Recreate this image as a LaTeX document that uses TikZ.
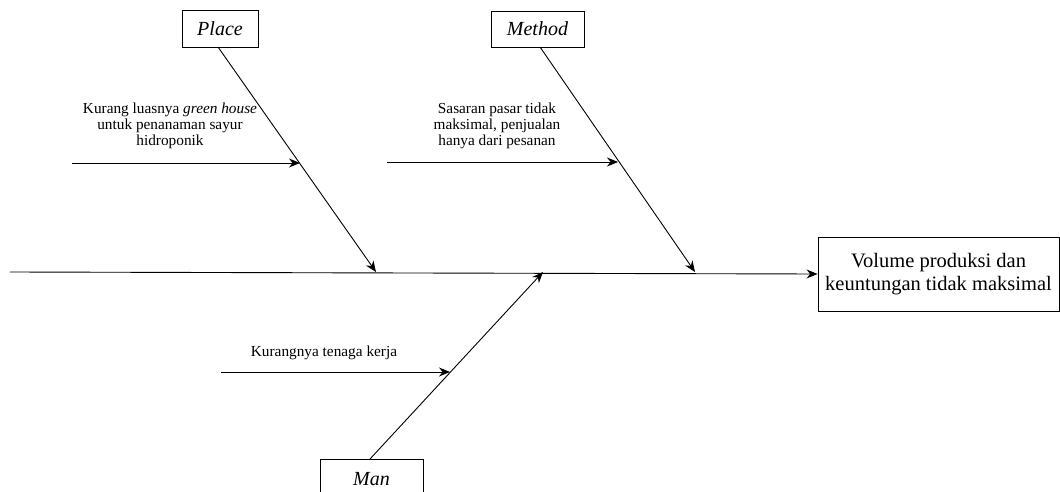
\documentclass[tikz,border=0pt]{standalone}
\usepackage{fontspec}
\setmainfont{Liberation Serif}
\usetikzlibrary{arrows.meta}
\begin{document}
\begin{tikzpicture}[x=1pt,y=-1pt,
  catbox/.style={draw,line width=0.9pt,inner sep=0pt,font=\fontsize{20}{23}\selectfont\itshape},
  effbox/.style={draw,line width=0.9pt,inner sep=0pt,align=center,font=\fontsize{20.5}{23}\selectfont,minimum width=241pt,minimum height=74pt},
  causetxt/.style={inner sep=0pt,align=center,font=\fontsize{15.3}{16}\selectfont},
  bone/.style={line width=0.9pt,-{Stealth[length=11pt,width=9pt]}},
  spine/.style={line width=0.9pt}]
\useasboundingbox (0,0) rectangle (1060,492);
\clip (0,0) rectangle (1060,492);
% effect box
\node[effbox] (effect) at (938.5,274) {Volume produksi dan\\keuntungan tidak maksimal};
% category boxes
\node[catbox,minimum width=76pt,minimum height=37pt] (place) at (220,28.5) {Place};
\node[catbox,minimum width=93pt,minimum height=36pt] (method) at (537.5,29) {Method};
\node[catbox,minimum width=103pt,minimum height=40pt,anchor=north] (man) at (371.5,459) {Man};
% junctions on spine
\coordinate (tail) at (10,272);
\coordinate (jplace) at (376,272);
\coordinate (jmethod) at (695,272);
\coordinate (jman) at (543,272);
% spine
\draw[bone] (tail) -- (effect.west);
% main bones
\draw[bone] (218,47) coordinate (ps) -- (jplace);
\draw[bone] (540,47) coordinate (ms) -- (jmethod);
\draw[bone] (370,459) coordinate (mns) -- (jman);
% sub causes
\coordinate (s1) at (72,163);
\coordinate (e1) at (300,163);
\coordinate (s2) at (387,162);
\coordinate (e2) at (618,162);
\coordinate (s3) at (221,372);
\coordinate (e3) at (450,372);
\draw[bone] (s1) -- (e1);
\draw[bone] (s2) -- (e2);
\draw[bone] (s3) -- (e3);
\node[causetxt] (t1) at (170,126) {Kurang luasnya \textit{green house}\\untuk penanaman sayur\\hidroponik};
\node[causetxt] (t2) at (497,126) {Sasaran pasar tidak\\maksimal, penjualan\\hanya dari pesanan};
\node[causetxt] (t3) at (324,353) {Kurangnya tenaga kerja};
\end{tikzpicture}
\end{document}
